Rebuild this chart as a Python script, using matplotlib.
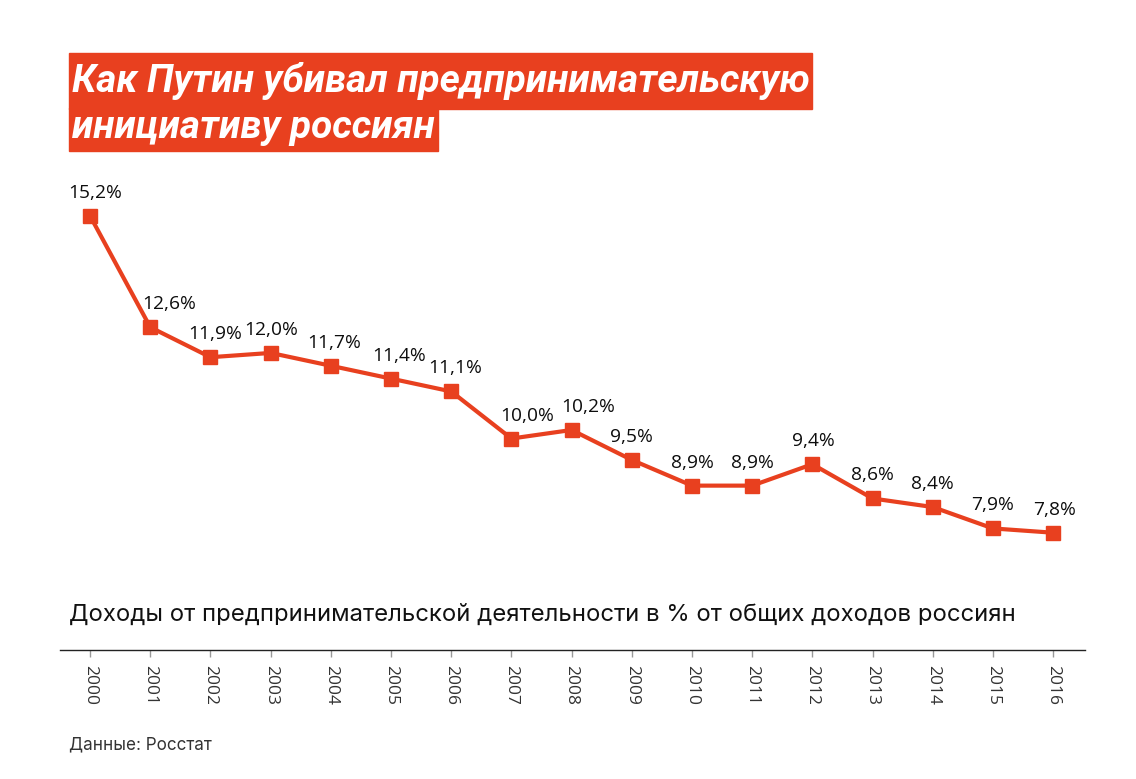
import matplotlib
matplotlib.use("Agg")
import matplotlib.pyplot as plt
from matplotlib.patches import Rectangle

years = [str(y) for y in range(2000, 2017)]
share = [15.2, 12.6, 11.9, 12.0, 11.7, 11.4, 11.1, 10.0, 10.2,
         9.5, 8.9, 8.9, 9.4, 8.6, 8.4, 7.9, 7.8]
value_labels = [f"{v:.1f}%".replace(".", ",") for v in share]

title_lines = ["Как Путин убивал предпринимательскую", "инициативу россиян"]
subtitle = "Доходы от предпринимательской деятельности в % от общих доходов россиян"
source = "Данные: Росстат"

RED = "#E8401F"
W, H = 1136, 779

plt.rcParams["font.family"] = ["Open Sans", "DejaVu Sans"]

fig = plt.figure(figsize=(W / 100, H / 100), dpi=100)


def px(x, y):
    # pixel position from top-left -> figure fraction
    return x / W, 1 - y / H


# title boxes
for (x0, y0, x1, y1) in [(69, 53, 812, 109), (69, 108, 438, 151)]:
    fig.patches.append(Rectangle(px(x0, y1), (x1 - x0) / W, (y1 - y0) / H,
                                 transform=fig.transFigure, color=RED, zorder=0))
tfont = dict(color="white", fontsize=27.8, fontweight="bold", fontstyle="italic",
             va="center", ha="left", family=["Roboto", "DejaVu Sans"])
fig.text(*px(72, 81), title_lines[0], **tfont)
fig.text(*px(72, 127), title_lines[1], **tfont)

# main axes: bottom spine is the axis line at y=650 px
left, right, top, bottom = 60, 1085, 180, 650
ax = fig.add_axes([left / W, 1 - bottom / H, (right - left) / W, (bottom - top) / H])
x = list(range(len(years)))
ax.plot(x, share, color=RED, linewidth=3, marker="s", markersize=10,
        markerfacecolor=RED, markeredgecolor=RED, clip_on=False)
ax.set_xlim(-0.5, 16.53)
ax.set_ylim(5.06, 16.04)

dx = [5, 19, 5, 1, 3, 8, 4, 16, 17, 0, 0, 0, 1, 0, 0, 0, 1]
for i, (v, lab) in enumerate(zip(share, value_labels)):
    ax.annotate(lab, (i, v), xytext=(dx[i], 23), textcoords="offset pixels",
                ha="center", va="center", fontsize=13.8, color="#0d0d0d")

for s in ("top", "right", "left"):
    ax.spines[s].set_visible(False)
ax.spines["bottom"].set_color("#222222")
ax.spines["bottom"].set_linewidth(1.0)
ax.set_yticks([])
ax.set_xticks(x)
ax.set_xticklabels(years, rotation=270, fontsize=12.5, color="#333333")
ax.tick_params(axis="x", direction="out", length=5, width=1, color="#999999", pad=6)

fig.text(*px(69, 615), subtitle, fontsize=17.2, color="#111111", va="center", ha="left",
         family=["Inter", "DejaVu Sans"])
fig.text(*px(69, 745), source, fontsize=12.3, color="#333333", va="center", ha="left",
         family=["Inter", "DejaVu Sans"])

fig.savefig("out.png", dpi=100, facecolor="white")
